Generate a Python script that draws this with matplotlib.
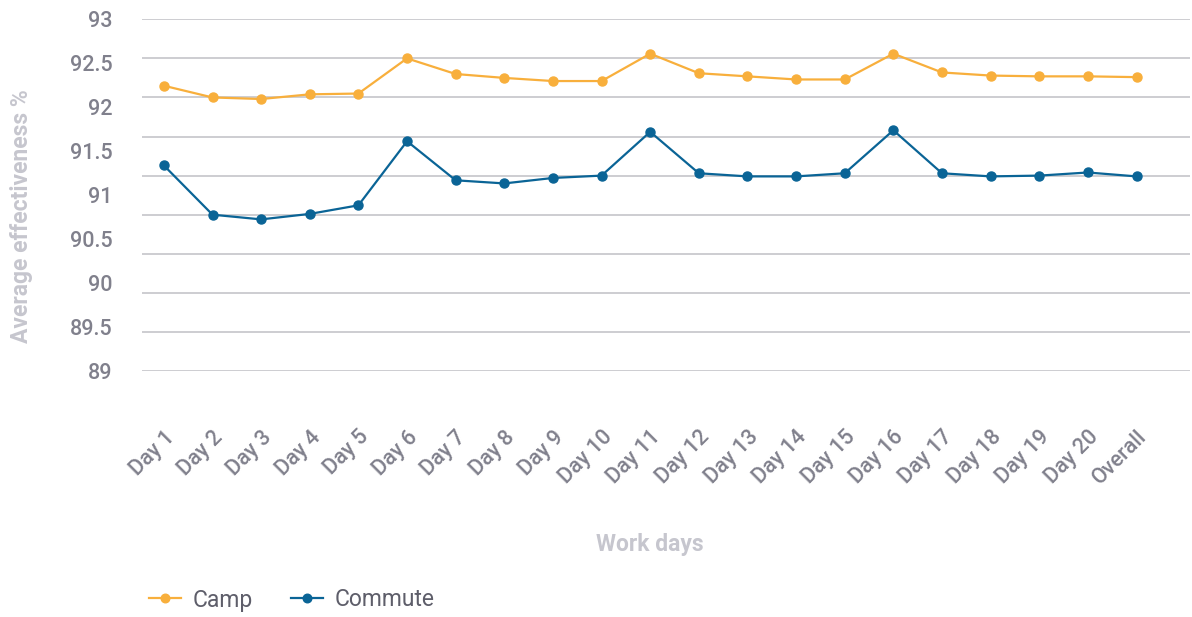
import matplotlib.pyplot as plt

# Data
days = ["Day 1", "Day 2", "Day 3", "Day 4", "Day 5", "Day 6", "Day 7", "Day 8",
        "Day 9", "Day 10", "Day 11", "Day 12", "Day 13", "Day 14", "Day 15",
        "Day 16", "Day 17", "Day 18", "Day 19", "Day 20", "Overall"]
camp = [92.15, 92.00, 91.98, 92.04, 92.05, 92.50, 92.30, 92.25, 92.21, 92.21,
        92.56, 92.31, 92.27, 92.23, 92.23, 92.56, 92.32, 92.28, 92.27, 92.27, 92.26]
commute = [91.13, 90.50, 90.44, 90.51, 90.62, 91.44, 90.94, 90.90, 90.97, 91.00,
           91.56, 91.03, 90.99, 90.99, 91.03, 91.58, 91.03, 90.99, 91.00, 91.04, 90.99]
tick_labels = ["93", "92.5", "92", "91.5", "91", "90.5", "90", "89.5", "89"]
tick_values = [93, 92.5, 92, 91.5, 91, 90.5, 90, 89.5, 89]

orange = "#F8AF3C"
blue = "#0A6496"
grid_col = "#C9C9CE"
tick_col = "#80808C"
title_col = "#C6C6CE"

plt.rcParams['font.family'] = ['Roboto', 'DejaVu Sans']

fig = plt.figure(figsize=(11.92, 6.17), dpi=100)
ax = fig.add_axes([142 / 1192, 1 - 371 / 617, 1048 / 1192, (371 - 19.3) / 617])

x = list(range(len(days)))
ax.plot(x, camp, color=orange, lw=1.6, marker='o', ms=6.5, label='Camp')
ax.plot(x, commute, color=blue, lw=1.6, marker='o', ms=6.5, label='Commute')

# gridlines (10 of them, every 0.5 from 88.5 to 93)
ax.set_ylim(88.5, 93)
ax.set_yticks([88.5 + 0.5 * i for i in range(10)])
ax.yaxis.grid(True, color=grid_col, lw=1.3)
ax.set_axisbelow(True)
ax.tick_params(axis='y', length=0, labelleft=False)
ax.set_xlim(-0.45, 21.1)
ax.set_xticks(x)
ax.set_xticklabels(days, rotation=45, ha='right', rotation_mode='anchor',
                   color=tick_col, fontsize=15.5, fontweight='medium')
ax.tick_params(axis='x', length=0, pad=40)
for s in ax.spines.values():
    s.set_visible(False)

# labels on the value axis (spread over the gridline range as in the reference)
lab = ax.twinx()
lab.set_ylim(89, 93)
lab.set_yticks(tick_values)
lab.set_yticklabels(tick_labels, color=tick_col, fontsize=15.5, fontweight='medium')
lab.yaxis.set_ticks_position('left')
lab.tick_params(axis='y', length=0, pad=21)
for s in lab.spines.values():
    s.set_visible(False)

fig.text(22 / 1192, 1 - 216 / 617, "Average effectiveness %", rotation=90,
         ha='center', va='center', color=title_col, fontsize=16.5, fontweight='bold')
fig.text(650 / 1192, 1 - 545 / 617, "Work days", ha='center', va='center',
         color=title_col, fontsize=16.5, fontweight='bold')

fig.legend(loc='center left', bbox_to_anchor=(128 / 1192, 1 - 600 / 617), ncol=2,
           frameon=False, fontsize=16.5, handlelength=1.4, handletextpad=0.5,
           columnspacing=1.7, labelcolor='#5E5E6A', markerscale=0.95)

plt.savefig('out.png', dpi=100)
